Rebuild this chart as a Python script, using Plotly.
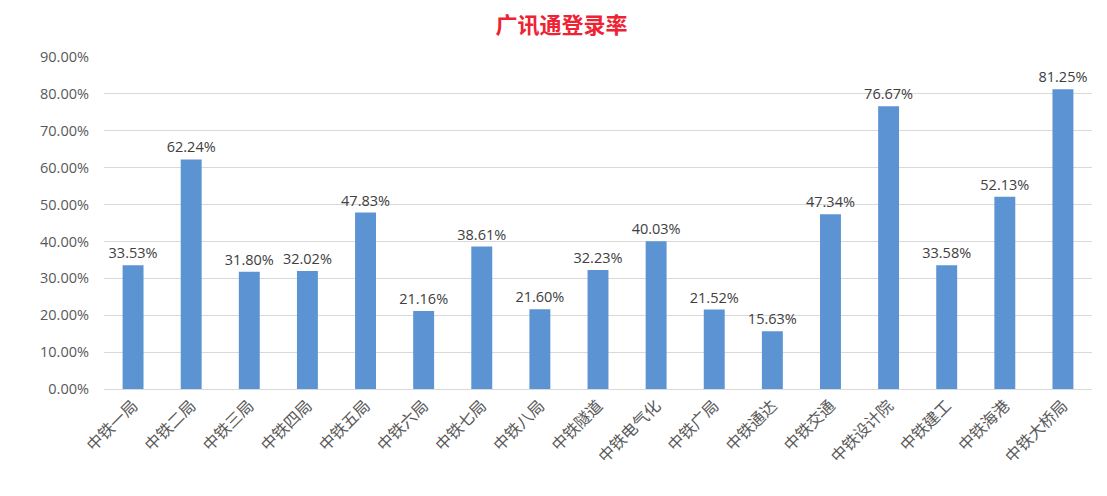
import plotly.graph_objects as go

categories = ["中铁一局", "中铁二局", "中铁三局", "中铁四局", "中铁五局", "中铁六局",
              "中铁七局", "中铁八局", "中铁隧道", "中铁电气化", "中铁广局", "中铁通达",
              "中铁交通", "中铁设计院", "中铁建工", "中铁海港", "中铁大桥局"]
values = [33.53, 62.24, 31.80, 32.02, 47.83, 21.16, 38.61, 21.60, 32.23, 40.03,
          21.52, 15.63, 47.34, 76.67, 33.58, 52.13, 81.25]
tick_vals = [0, 10, 20, 30, 40, 50, 60, 70, 80, 90]
tick_text = [f"{v:.2f}%" for v in tick_vals]

fig = go.Figure(go.Bar(
    x=categories, y=values,
    marker=dict(color="#5b93d3", line=dict(width=0)),
    text=[f"{v:.2f}%" for v in values],
    textposition="outside",
    constraintext="none",
    textfont=dict(size=14.5, color="#404040", family="Open Sans, Noto Sans CJK SC"),
    cliponaxis=False,
))

fig.update_layout(
    width=1107, height=496,
    paper_bgcolor="white", plot_bgcolor="white",
    margin=dict(l=96, r=23, t=49, b=115),
    title=dict(text="广讯通登录率", x=0.5, xanchor="center",
               yref="container", y=0.965, yanchor="middle",
               font=dict(size=22, color="#ee2233", family="Noto Sans CJK SC", weight="bold")),
    bargap=0.64,
    showlegend=False,
    font=dict(family="Noto Sans CJK SC, Open Sans", color="#595959"),
)
fig.update_yaxes(range=[0, 90], tickvals=tick_vals, ticktext=tick_text,
                 showgrid=True, gridcolor="#d9d9d9", gridwidth=1,
                 zeroline=False, ticks="", ticklabelstandoff=14,
                 tickfont=dict(size=14.5, color="#595959", family="Open Sans"))
fig.update_xaxes(tickangle=-45, showline=True, linecolor="#d9d9d9", linewidth=1,
                 tickfont=dict(size=16, color="#595959", family="Noto Sans CJK SC"))

fig.write_html("out.html")
